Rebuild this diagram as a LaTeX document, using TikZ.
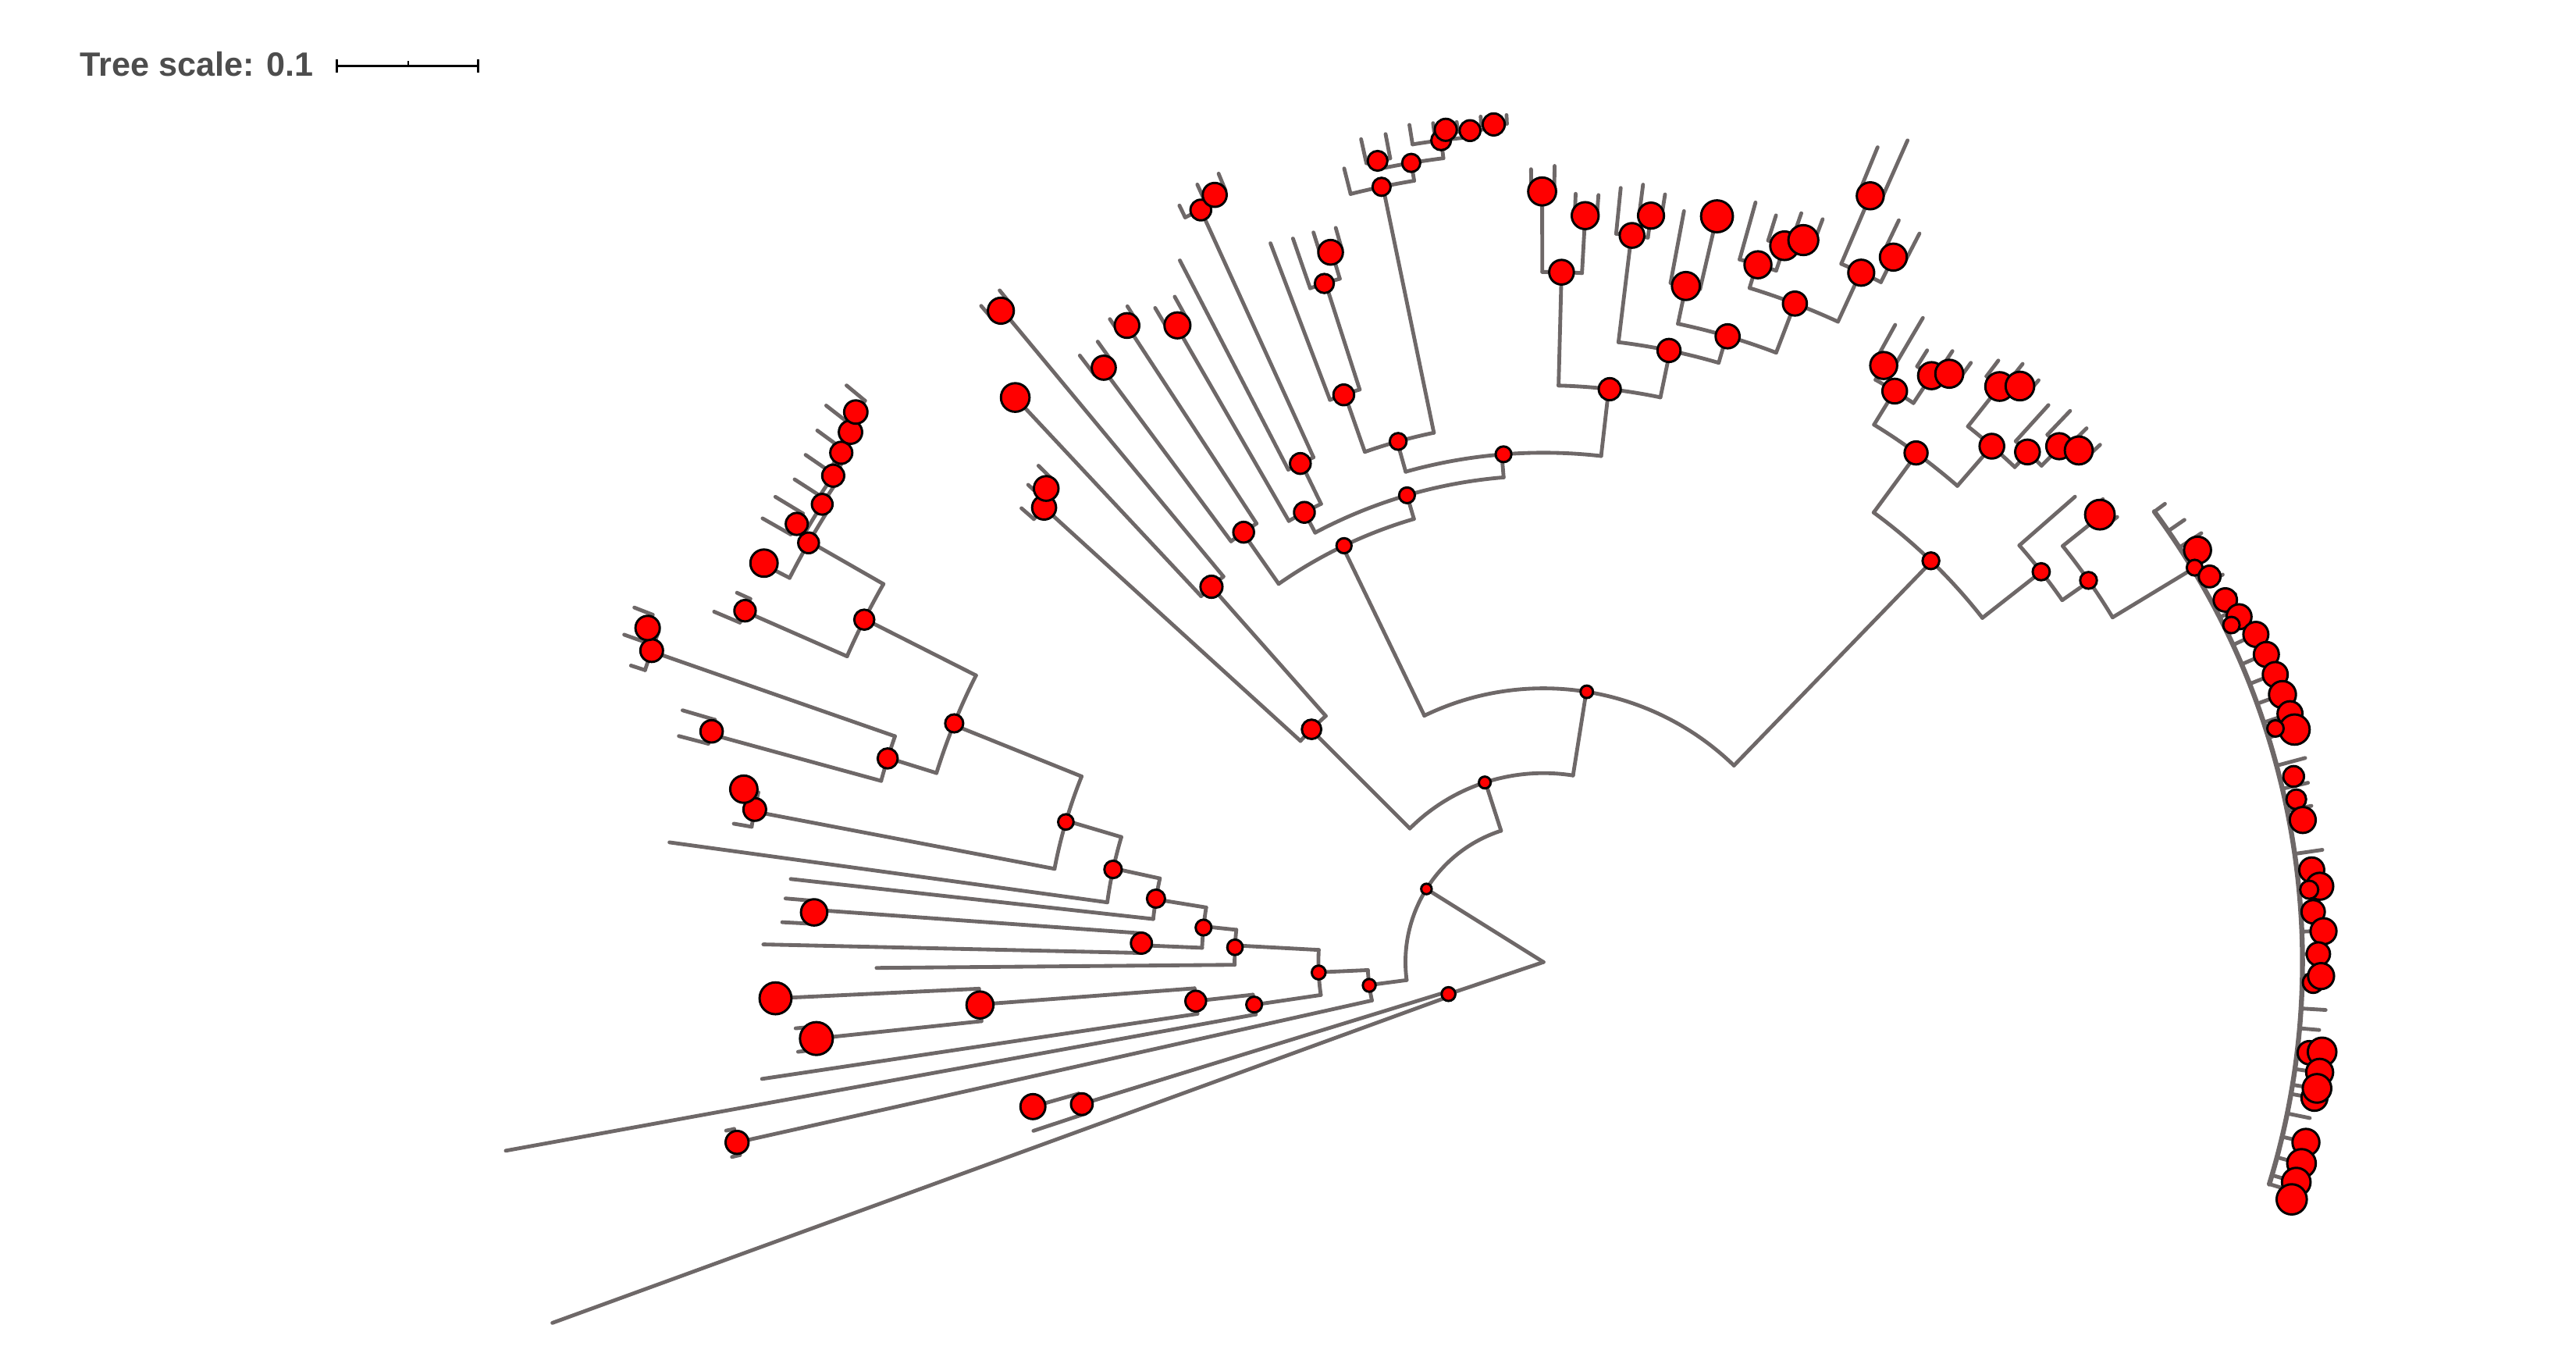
\documentclass[tikz,border=0pt]{standalone}
\usepackage{fontspec}
\setmainfont{Liberation Sans}
\definecolor{brc}{RGB}{110,104,104}
\definecolor{txtc}{RGB}{77,77,77}
\newcommand{\RB}[3]{\draw[br] (#1:#2pt) -- (#1:#3pt);}
\newcommand{\AR}[3]{\draw[br] (#1:#3pt) arc[start angle=#1, end angle=#2, radius=#3pt];}
\newcommand{\BS}[4]{\node[bs, minimum size=#4pt] (#1) at (#2:#3pt) {};}
\begin{document}
\begin{tikzpicture}[x=1pt,y=1pt,
  br/.style={draw=brc, line width=2.3pt, line cap=round, line join=round},
  bs/.style={circle, draw=black, fill=red, line width=1.4pt, inner sep=0pt}]
\useasboundingbox (0,0) rectangle (1568,-830);
% scale
\node[anchor=base west, text=txtc, font=\bfseries\fontsize{20.5}{24}\selectfont, inner sep=0pt] (title) at (48.5,-46.3) {Tree scale: 0.1};
\coordinate (sbA) at (205,-40);
\coordinate (sbB) at (291,-40);
\coordinate (sbM) at (248.5,-40);
\draw[line width=1.5pt] (sbA) -- (sbB);
\draw[line width=1.5pt] ([yshift=4pt]sbA) -- ([yshift=-4pt]sbA);
\draw[line width=1.5pt] ([yshift=4pt]sbB) -- ([yshift=-4pt]sbB);
\draw[line width=1.3pt] ([yshift=2.8pt]sbM) -- (sbM);
\begin{scope}[shift={(939.5,-585.5)}]
% ---------------- branches ----------------
\RB{148}{0}{84} \RB{198.6}{0}{61}
% B
\AR{197.1}{200.0}{61}
\RB{200.0}{61}{642}
\RB{197.1}{61}{294} \AR{195.8}{198.3}{294}
\RB{198.3}{294}{327}
\RB{195.8}{294}{323} \AR{195.3}{196.3}{323}
\RB{195.3}{323}{329} \RB{196.3}{323}{329}
% A
\AR{107.9}{187.5}{84}
\RB{187.5}{84}{107} \AR{182.6}{192.6}{107}
\RB{192.6}{107}{503} \AR{191.65}{193.5}{503}
\RB{191.65}{503}{508} \RB{193.5}{503}{508}
\RB{182.6}{107}{137} \AR{176.9}{188.4}{137}
\RB{188.4}{137}{178} \AR{186.4}{190.3}{178}
\RB{190.3}{178}{642}
\RB{186.4}{178}{213} \AR{184.3}{188.5}{213}
\RB{188.5}{213}{481}
\RB{184.3}{213}{344} \AR{182.7}{186.0}{344}
\RB{182.7}{344}{468}
\RB{186.0}{344}{445} \AR{185.06}{186.86}{445}
\RB{185.06}{445}{457} \RB{186.86}{445}{457}
\RB{176.9}{137}{188} \AR{174.0}{180.5}{188}
\RB{180.5}{188}{406}
\RB{174.0}{188}{208} \AR{170.8}{177.6}{208}
\RB{177.6}{208}{245} \AR{175.9}{178.7}{245}
\RB{178.7}{245}{475}
\RB{175.9}{245}{445} \AR{175.2}{177.0}{445}
\RB{175.2}{445}{463} \RB{177.0}{445}{464}
\RB{170.8}{208}{239} \AR{167.7}{173.7}{239}
\RB{173.7}{239}{461}
\RB{167.7}{239}{268} \AR{163.5}{172.2}{268}
\RB{172.2}{268}{537}
\RB{163.5}{268}{303} \AR{158.1}{169.2}{303}
\RB{169.2}{303}{489} \AR{167.8}{170.3}{489}
\RB{170.3}{489}{500}
\RB{167.8}{489}{498}
\RB{158.1}{303}{387} \AR{153.2}{162.7}{387}
\RB{162.7}{387}{418} \AR{160.8}{164.7}{418}
\RB{160.8}{418}{575} \AR{159.5}{162.0}{575}
\RB{162.0}{575}{584}
\RB{159.5}{575}{582} \AR{158.7}{160.4}{582}
\RB{158.7}{582}{594} \RB{160.4}{582}{594}
\RB{164.7}{418}{525.5} \AR{163.7}{165.35}{525.5}
\RB{163.7}{525.5}{546} \RB{165.35}{525.5}{544}
\RB{153.2}{387}{463} \AR{150.2}{156.3}{463}
\RB{156.3}{463}{531} \AR{155.4}{157.1}{531}
\RB{155.4}{531}{540} \RB{157.1}{531}{548}
\RB{150.2}{463}{515} \AR{147.6}{153.0}{515}
\RB{153.0}{515}{533}
\RB{147.6}{515}{520} \AR{145.6}{149.6}{520}
\RB{149.6}{520}{527} \AR{148.8}{150.4}{527}
\RB{148.8}{527}{546.6} \RB{150.4}{527}{546.7}
\RB{145.6}{520}{524} \AR{144.05}{147.2}{524}
\RB{147.2}{524}{542.3}
\RB{144.05}{524}{528} \AR{142.6}{145.5}{528}
\RB{145.5}{528}{545}
\RB{142.6}{528}{531} \AR{141.35}{143.8}{531}
\RB{143.8}{531}{547.8}
\RB{141.35}{531}{536} \AR{140.4}{142.2}{536}
\RB{140.4}{536}{550.6} \RB{142.2}{536}{552.6}
% D
\RB{107.9}{84}{115} \AR{81.0}{135.0}{115}
\RB{135.0}{115}{200} \AR{131.5}{137.7}{200}
\RB{131.5}{200}{305} \AR{129.7}{133.1}{305}
\RB{129.7}{305}{516} \AR{129.0}{130.6}{516}
\RB{129.0}{516}{526} \RB{130.6}{516}{526}
\RB{133.1}{305}{470.6}
\RB{137.7}{200}{411} \AR{136.4}{139.0}{411}
\RB{139.0}{411}{421}
\RB{136.4}{411}{418} \AR{135.5}{137.2}{418}
\RB{135.5}{418}{431} \RB{137.2}{418}{427.5}
% E
\RB{81.0}{115}{166.6} \AR{45.9}{115.8}{166.6}
\RB{115.8}{166.6}{281} \AR{106.3}{125.0}{281}
\RB{125.0}{281}{319} \AR{123.2}{126.6}{319}
\RB{123.2}{319}{463} \AR{122.4}{124.0}{463}
\RB{122.4}{463}{472.7} \RB{124.0}{463}{472}
\RB{126.6}{319}{450} \AR{125.7}{127.4}{450}
\RB{125.7}{450}{465} \RB{127.4}{450}{464.7}
\RB{106.3}{281}{296} \AR{94.7}{118.0}{296}
\RB{118.0}{296}{310} \AR{115.9}{120.0}{310}
\RB{120.0}{310}{447} \AR{119.0}{120.7}{447}
\RB{119.0}{447}{463} \RB{120.7}{447}{463}
\RB{115.9}{310}{337.6} \AR{114.5}{117.4}{337.6}
\RB{117.4}{337.6}{481}
\RB{114.5}{337.6}{503} \AR{113.2}{115.7}{503}
\RB{115.7}{503}{511}
\RB{113.2}{503}{508} \AR{112.4}{114.0}{508}
\RB{112.4}{508}{519} \RB{114.0}{508}{518}
\RB{94.7}{296}{310} \AR{83.5}{105.7}{310}
\RB{105.7}{310}{329} \AR{101.7}{109.3}{329}
\RB{109.3}{329}{366} \AR{107.8}{110.8}{366}
\RB{110.8}{366}{468}
\RB{107.8}{366}{434} \AR{106.6}{109.1}{434}
\RB{109.1}{434}{466}
\RB{106.6}{434}{451} \AR{105.8}{107.5}{451}
\RB{105.8}{451}{464.4} \RB{107.5}{451}{465.6}
\RB{101.7}{329}{482} \AR{99.4}{104.1}{482}
\RB{104.1}{482}{498}
\RB{99.4}{482}{493} \AR{97.1}{101.7}{493}
\RB{101.7}{493}{498} \AR{100.8}{102.5}{498}
\RB{100.8}{498}{513} \RB{102.5}{498}{513}
\RB{97.1}{493}{504} \AR{95.05}{99.1}{504}
\RB{99.1}{504}{516}
\RB{95.05}{504}{508} \AR{93.4}{96.7}{508}
\RB{96.7}{508}{510} \AR{95.9}{97.5}{510}
\RB{95.9}{510}{514} \RB{97.5}{510}{515}
\RB{93.4}{508}{510.7} \AR{92.5}{94.25}{510.7}
\RB{92.5}{510.7}{516} \RB{94.25}{510.7}{516}
\RB{83.5}{310}{351} \AR{78.3}{88.5}{351}
\RB{88.5}{351}{420} \AR{86.8}{90.1}{420}
\RB{90.1}{420}{469} \AR{89.2}{90.9}{469}
\RB{89.2}{469}{484.6} \RB{90.9}{469}{482.6}
\RB{86.8}{420}{455} \AR{85.9}{87.6}{455}
\RB{85.9}{455}{468} \RB{87.6}{455}{468}
\RB{78.3}{351}{380} \AR{73.7}{83.1}{380}
\RB{83.1}{380}{445.5} \AR{81.8}{84.3}{445.5}
\RB{84.3}{445.5}{473.5}
\RB{81.8}{445.5}{459} \AR{81.0}{82.7}{459}
\RB{81.0}{459}{473} \RB{82.7}{459}{477}
\RB{73.7}{380}{397} \AR{69.1}{78.1}{397}
\RB{78.1}{397}{420.5} \AR{76.9}{79.4}{420.5}
\RB{79.4}{420.5}{465}
\RB{76.9}{420.5}{466}
\RB{69.1}{397}{429} \AR{65.3}{73.0}{429}
\RB{73.0}{429}{444} \AR{71.4}{74.4}{444}
\RB{74.4}{444}{480}
\RB{71.4}{444}{460} \AR{70.2}{72.7}{460}
\RB{72.7}{460}{476}
\RB{70.2}{460}{467} \AR{69.4}{71.0}{467}
\RB{69.4}{467}{483} \RB{71.0}{467}{482}
\RB{65.3}{429}{462} \AR{63.6}{66.9}{462}
\RB{66.9}{462}{507} \AR{66.1}{67.7}{507}
\RB{66.1}{507}{547} \RB{67.7}{507}{536}
\RB{63.6}{462}{479} \AR{62.7}{64.4}{479}
\RB{62.7}{479}{499} \RB{64.4}{479}{500.6}
% L
\RB{45.9}{166.6}{339.5} \AR{38.1}{53.7}{339.5}
\RB{53.7}{339.5}{384} \AR{49.0}{58.4}{384}
\RB{58.4}{384}{408} \AR{56.5}{60.3}{408}
\RB{60.3}{408}{418} \AR{59.5}{61.1}{418}
\RB{59.5}{418}{455} \RB{61.1}{418}{443}
\RB{56.5}{408}{428} \AR{55.4}{57.9}{428}
\RB{57.9}{428}{439.5}
\RB{55.4}{428}{435} \AR{54.5}{56.2}{435}
\RB{54.5}{435}{448} \RB{56.2}{435}{447.5}
\RB{49.0}{384}{416} \AR{46.4}{51.6}{416}
\RB{51.6}{416}{447} \AR{50.4}{52.9}{447}
\RB{52.9}{447}{459}
\RB{50.4}{447}{455} \AR{49.6}{51.3}{455}
\RB{49.6}{455}{465} \RB{51.3}{455}{466.5}
\RB{46.4}{416}{428} \AR{44.9}{47.8}{428}
\RB{47.8}{428}{457.6}
\RB{44.9}{428}{444} \AR{43.7}{46.3}{444}
\RB{46.3}{444}{464}
\RB{43.7}{444}{450.7} \AR{42.9}{44.5}{450.7}
\RB{42.9}{450.7}{462.5} \RB{44.5}{450.7}{463.5}
\RB{38.1}{339.5}{385} \AR{34.9}{41.2}{385}
\RB{41.2}{385}{430}
\RB{34.9}{385}{405} \AR{31.2}{38.7}{405}
\RB{38.7}{405}{434.6} \AR{37.8}{39.6}{434.6}
\RB{37.8}{434.6}{442} \RB{39.6}{434.6}{442}
\RB{31.2}{405}{462}
\draw[br, line width=3pt] (-17.0:462pt) arc[start angle=-17.0, end angle=36.4, radius=462pt];
\foreach \a/\r in {36.4/470,34.6/474,33.1/478,32.2/470,30.1/469,29.7/476,28.0/477,27.0/473,26.4/473,24.7/477,23.1/478,21.5/479,19.9/478,18.4/479,17.2/479,15.0/480,13.9/471,13.2/478,12.2/469,11.5/477,10.6/470,8.2/479,6.8/471,5.6/475,3.7/470,2.3/475,0.6/472,-1.0/473,-3.5/477,-5.0/474,-6.6/477,-8.1/477,-9.3/477,-10.0/477,-11.5/476,-13.3/477,-14.9/477,-16.3/477,-17.0/478}
  {\draw[br] (\a:462pt) -- (\a:\r pt);}
% ---------------- bootstrap circles ----------------
\BS{nA}{148}{84}{6.4}
\BS{nB}{198.6}{61}{8.4}
\BS{nB2}{197.1}{294}{13.2}
\BS{nB2b}{195.8}{323}{15.2}
\BS{nA1}{187.6}{107}{7.8}
\BS{nZ}{192.6}{503}{14}
\BS{nA1u}{182.65}{137}{8.4}
\BS{nN1}{188.35}{178}{9.6}
\BS{nN2}{186.4}{213}{12.6}
\BS{nN3}{184.35}{344}{16.4}
\BS{nN4}{182.7}{468}{19.4}
\BS{nN5}{186.0}{445}{20}
\BS{nN8}{177.25}{188}{9.4}
\BS{nN7}{174.2}{208}{9.6}
\BS{nN6}{177.3}{245}{12.8}
\BS{nN12}{176.1}{445}{16}
\BS{nN9}{170.7}{239}{11}
\BS{nN10}{167.85}{268}{10.6}
\BS{nN11}{163.65}{303}{9.4}
\BS{nS}{169.05}{489}{13.8}
\BS{nS1}{167.8}{498}{16.6}
\BS{nQ}{157.95}{387}{11}
\BS{nR}{162.75}{418}{12.2}
\BS{nR1}{160.75}{575}{13.8}
\BS{nR1a}{159.55}{582}{14.8}
\BS{nR2}{164.5}{525.5}{13.6}
\BS{nT}{153.25}{463}{12.2}
\BS{nV}{156.25}{531}{13}
\BS{nU}{150.3}{515}{12.6}
\BS{nW}{152.9}{533}{16.6}
\BS{nX1}{147.6}{520}{12.6}
\BS{nY}{149.6}{527}{13.4}
\BS{nX2}{145.6}{524}{13.4}
\BS{nX3}{144.05}{528}{13.4}
\BS{nX4}{142.6}{531}{14.2}
\BS{nX5}{141.35}{536}{14.2}
\BS{nD}{108.1}{115}{7.2}
\BS{nF}{134.9}{200}{11.8}
\BS{nG}{131.5}{305}{13.4}
\BS{nG1}{129.8}{516}{15.8}
\BS{nG2}{133.1}{470.6}{17.4}
\BS{nH}{137.7}{411}{14.6}
\BS{nH1}{136.4}{418}{15}
\BS{nE}{80.9}{166.6}{7.6}
\BS{nK}{115.6}{281}{9.2}
\BS{nI}{124.9}{319}{12.6}
\BS{nI1}{123.2}{463}{15}
\BS{nI2}{126.5}{450}{14.6}
\BS{nJ}{106.3}{296}{9.6}
\BS{nM}{118.0}{310}{12.6}
\BS{nM2}{119.9}{447}{15.8}
\BS{nM1}{116.0}{337.6}{12.6}
\BS{nM1b}{114.5}{503}{12.6}
\BS{nM1c}{113.2}{508}{14.6}
\BS{nN}{94.5}{310}{9.6}
\BS{nO}{105.6}{329}{10.2}
\BS{nO1}{109.4}{366}{12.6}
\BS{nO1b}{107.9}{434}{11.6}
\BS{nO1c}{106.7}{451}{15}
\BS{nO2}{101.8}{482}{11}
\BS{nOa}{99.4}{493}{11}
\BS{nOa1}{101.7}{498}{12}
\BS{nOb}{97.1}{504}{12}
\BS{nOc}{95.05}{508}{12.6}
\BS{nOd1}{96.7}{510}{13.4}
\BS{nOd2}{93.4}{510.7}{13.4}
\BS{nP2}{83.4}{351}{13.4}
\BS{nP3}{88.5}{420}{15}
\BS{nP3a}{90.1}{469}{17}
\BS{nP3b}{86.8}{455}{16.4}
\BS{nP4}{78.4}{380}{14}
\BS{nP5}{83.05}{445.5}{15}
\BS{nP5b}{81.8}{459}{15.8}
\BS{nP6}{73.6}{397}{14.6}
\BS{nP7}{78.1}{420.5}{17}
\BS{nP7b}{76.9}{466}{19.4}
\BS{nP8}{69.1}{429}{14.6}
\BS{nP9}{72.9}{444}{16.4}
\BS{nP9b}{71.4}{460}{17.4}
\BS{nP9c}{70.2}{467}{18.2}
\BS{nP10}{65.25}{462}{15.8}
\BS{nP11}{66.9}{507}{16.4}
\BS{nP12}{63.6}{479}{16.4}
\BS{nL}{46.0}{339.5}{10.2}
\BS{nL1}{53.8}{384}{14}
\BS{nL3}{58.4}{408}{15}
\BS{nL3a}{60.3}{418}{16.4}
\BS{nL3b}{56.5}{428}{16.4}
\BS{nL3c}{55.4}{435}{17}
\BS{nL4}{49.0}{416}{15}
\BS{nL4a}{51.6}{447}{17.4}
\BS{nL4aa}{50.4}{455}{17.4}
\BS{nL4b}{46.5}{428}{15}
\BS{nL4c}{45.0}{444}{15.8}
\BS{nL4d}{43.7}{450.7}{17}
\BS{nL2}{38.1}{385}{10.4}
\BS{nL5}{35.0}{405}{10.2}
\BS{nL5a}{38.8}{434.6}{18}
% right column
\BS{c1}{32.2}{470.5}{16.4}
\BS{c2}{31.2}{463.4}{9.6}
\BS{c3}{30.06}{468.5}{13.2}
\BS{c4}{27.97}{469.9}{14.2}
\BS{c5}{26.4}{472.7}{15.2}
\BS{c6}{26.1}{466.3}{10}
\BS{c7}{24.7}{477.3}{15.2}
\BS{c8}{23.05}{478.2}{15.2}
\BS{c9}{21.45}{478.6}{15.2}
\BS{c10}{19.9}{478.4}{16.4}
\BS{c11}{18.4}{478.9}{15.2}
\BS{c12}{17.2}{478.6}{18.4}
\BS{c13}{17.7}{467.7}{10}
\BS{c14}{13.9}{470.4}{12.6}
\BS{c15}{12.2}{468.8}{12}
\BS{c16}{10.6}{470.2}{15.8}
\BS{c17}{6.84}{471}{15.2}
\BS{c18}{5.58}{474.8}{16.4}
\BS{c19}{5.4}{468.2}{11}
\BS{c20}{3.74}{469.5}{14.2}
\BS{c21}{2.27}{475.2}{15.8}
\BS{c22}{0.6}{471.7}{14.2}
\BS{c23}{-1.52}{468.7}{12.6}
\BS{c24}{-1.03}{473.4}{15.8}
\BS{c25}{-6.75}{469.4}{14.2}
\BS{c26}{-6.58}{477.1}{17.4}
\BS{c27}{-8.08}{477.2}{16.4}
\BS{c28}{-9.98}{476.5}{15.8}
\BS{c29}{-9.27}{477.1}{17.4}
\BS{c30}{-13.3}{476.9}{16.4}
\BS{c31}{-14.87}{477.4}{17.4}
\BS{c32}{-16.29}{477.4}{17.4}
\BS{c33}{-17.59}{477.8}{18.4}
\end{scope}
\end{tikzpicture}
\end{document}
